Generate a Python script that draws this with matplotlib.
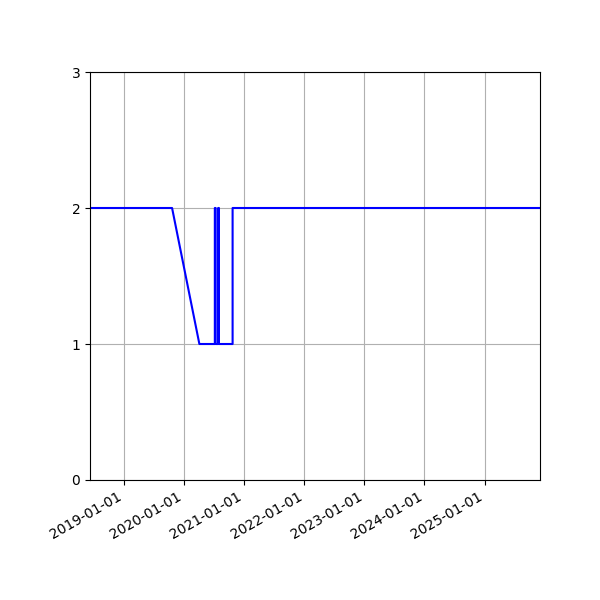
import numpy as np
import matplotlib
matplotlib.use("Agg")
import matplotlib.pyplot as plt
import matplotlib.dates as mdates

# dates and values
dates = np.array([
    "2018-06-08", "2019-10-20", "2020-04-03",
    "2020-07-06", "2020-07-06", "2020-07-11", "2020-07-11",
    "2020-07-26", "2020-07-26", "2020-07-31", "2020-07-31",
    "2020-10-22", "2020-10-22", "2025-12-04",
], dtype="datetime64[D]")
values = [2, 2, 1,
          1, 2, 2, 1,
          1, 2, 2, 1,
          1, 2, 2]
yticks = [0, 1, 2, 3]

fig, ax = plt.subplots(figsize=(6, 6), dpi=100)
ax.plot(dates, values, color="blue")
ax.set_xlim(dates[0], dates[-1])
ax.set_ylim(0, 3)
ax.set_yticks(yticks)
ax.xaxis.set_major_locator(mdates.YearLocator())
ax.xaxis.set_major_formatter(mdates.DateFormatter("%Y-%m-%d"))
ax.grid(True)
fig.autofmt_xdate()
fig.subplots_adjust(left=0.15)

fig.savefig("out.png")
